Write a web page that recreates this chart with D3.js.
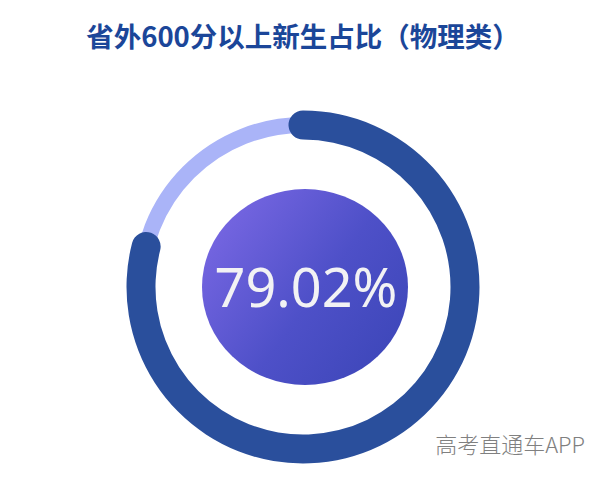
<!DOCTYPE html>
<html>
<head>
    <meta charset="utf-8">
    <title>省外600分以上新生占比（物理类）</title>
    <script src="https://d3js.org/d3.v7.min.js"></script>
    <style>
        body { margin: 0; background: #ffffff; }
    </style>
</head>
<body>
<div id="output"></div>

<script type="text/javascript">

    var title = ["省外600分以上新生占比（物理类）"];
    var percentValue = [79.02];          // share in %
    var valueLabels = ["79.02%"];
    var watermark = ["高考直通车APP"];

    var w = 612;
    var h = 484;

    var cx = 303, cy = 287;                // ring centre
    var ringR = 162;                       // ring centre line
    var darkWidth = 29, lightWidth = 16;

    var svg = d3.select("#output").append("svg")
        .attr("width", w)
        .attr("height", h);

    var defs = svg.append("defs");
    var grad = defs.append("linearGradient")
        .attr("id", "ballGrad")
        .attr("x1", "0%").attr("y1", "15%")
        .attr("x2", "100%").attr("y2", "85%");
    grad.append("stop").attr("offset", "0%").attr("stop-color", "#7a68e4");
    grad.append("stop").attr("offset", "55%").attr("stop-color", "#4e50c8");
    grad.append("stop").attr("offset", "100%").attr("stop-color", "#3c46b8");

    // title
    svg.append("text")
        .attr("x", 303)
        .attr("y", 47)
        .attr("text-anchor", "middle")
        .attr("font-family", "'Noto Sans CJK SC', 'Noto Sans', sans-serif")
        .attr("font-weight", "bold")
        .attr("font-size", 27.5)
        .attr("fill", "#1b4699")
        .text(title[0]);

    var angle = d3.scaleLinear()             // percent -> angle
        .domain([0, 100])
        .range([0, 2 * Math.PI]);

    var chart = svg.append("g")
        .attr("transform", "translate(" + cx + "," + cy + ")");

    // background track
    chart.append("circle")
        .attr("r", ringR)
        .attr("fill", "none")
        .attr("stroke", "#aab4f8")
        .attr("stroke-width", lightWidth);

    // value arc with round caps reaching past the ends
    var capAngle = (darkWidth / 2) / ringR;
    var arc = d3.arc()
        .innerRadius(ringR - darkWidth / 2)
        .outerRadius(ringR + darkWidth / 2)
        .cornerRadius(darkWidth / 2);

    chart.selectAll(".valueArc")
        .data(percentValue)
        .enter()
        .append("path")
        .attr("class", "valueArc")
        .attr("fill", "#2a4f9c")
        .attr("d", function(d){
            return arc({startAngle: angle(0) - capAngle, endAngle: angle(d) + capAngle});
        });

    // centre ball
    svg.append("ellipse")
        .attr("cx", 305)
        .attr("cy", 287)
        .attr("rx", 103)
        .attr("ry", 98)
        .attr("fill", "url(#ballGrad)");

    svg.selectAll(".valueLabel")
        .data(valueLabels)
        .enter()
        .append("text")
        .attr("class", "valueLabel")
        .attr("x", 306)
        .attr("y", 307)
        .attr("text-anchor", "middle")
        .attr("font-family", "'Noto Sans', 'Open Sans', sans-serif")
        .attr("font-size", 54)
        .attr("fill", "#f2f2f4")
        .text(function(d){ return d; });

    // watermark
    svg.append("text")
        .attr("x", 585)
        .attr("y", 453)
        .attr("text-anchor", "end")
        .attr("font-family", "'Noto Sans CJK SC', sans-serif")
        .attr("font-weight", 300)
        .attr("font-size", 22)
        .attr("fill", "#808080")
        .text(watermark[0]);

</script>
</body>
</html>
